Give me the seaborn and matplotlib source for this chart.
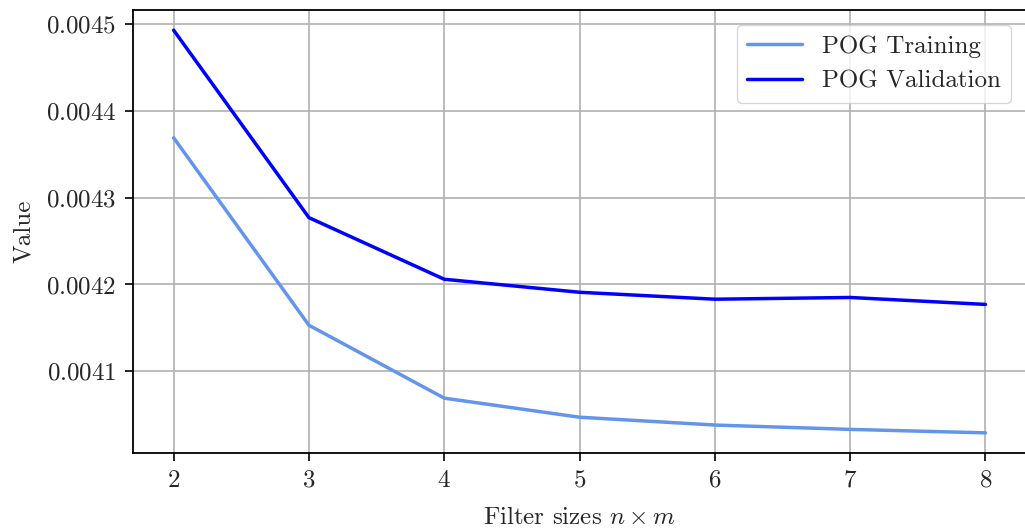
import matplotlib
matplotlib.use("Agg")
import matplotlib.pyplot as plt
import seaborn as sns
import pandas as pd

filter_sizes = [2, 3, 4, 5, 6, 7, 8]
training = [0.004369, 0.004153, 0.004069, 0.004047, 0.004038, 0.004033, 0.004029]
validation = [0.004493, 0.004277, 0.004206, 0.004191, 0.004183, 0.004185, 0.004177]
series_names = ["POG Training", "POG Validation"]
colors = ["cornflowerblue", "blue"]

sns.set_style("ticks")
plt.rcParams["font.family"] = ["cmr10", "DejaVu Serif"]
plt.rcParams["mathtext.fontset"] = "cm"
plt.rcParams["axes.formatter.use_mathtext"] = True
plt.rcParams["axes.unicode_minus"] = False

df = pd.DataFrame({
    "x": filter_sizes * 2,
    "value": training + validation,
    "series": [series_names[0]] * len(filter_sizes) + [series_names[1]] * len(filter_sizes),
})

fig, ax = plt.subplots(figsize=(10.25, 5.29), dpi=100)
fig.subplots_adjust(left=0.1298, right=1.001, top=0.981, bottom=0.1437)

sns.lineplot(data=df, x="x", y="value", hue="series", palette=colors, linewidth=2.5, ax=ax)

ax.grid(True, color="#b0b0b0", linewidth=1.2)
ax.set_axisbelow(True)
ax.set_xticks(filter_sizes)
ax.set_xlabel(r"Filter sizes $n \times m$", fontsize=18, labelpad=11)
ax.set_ylabel("Value", fontsize=18, labelpad=8)
ax.tick_params(labelsize=18, length=6, width=1.2, color="black", pad=6)
for s in ax.spines.values():
    s.set_color("black")
    s.set_linewidth(1.3)
ax.margins(x=0.05, y=0.05)

leg = ax.legend(loc="upper right", fontsize=18, frameon=True, title=None,
                borderaxespad=0.6, handlelength=2.2)
leg.get_frame().set_edgecolor("#cccccc")

fig.savefig("out.png", dpi=100)
